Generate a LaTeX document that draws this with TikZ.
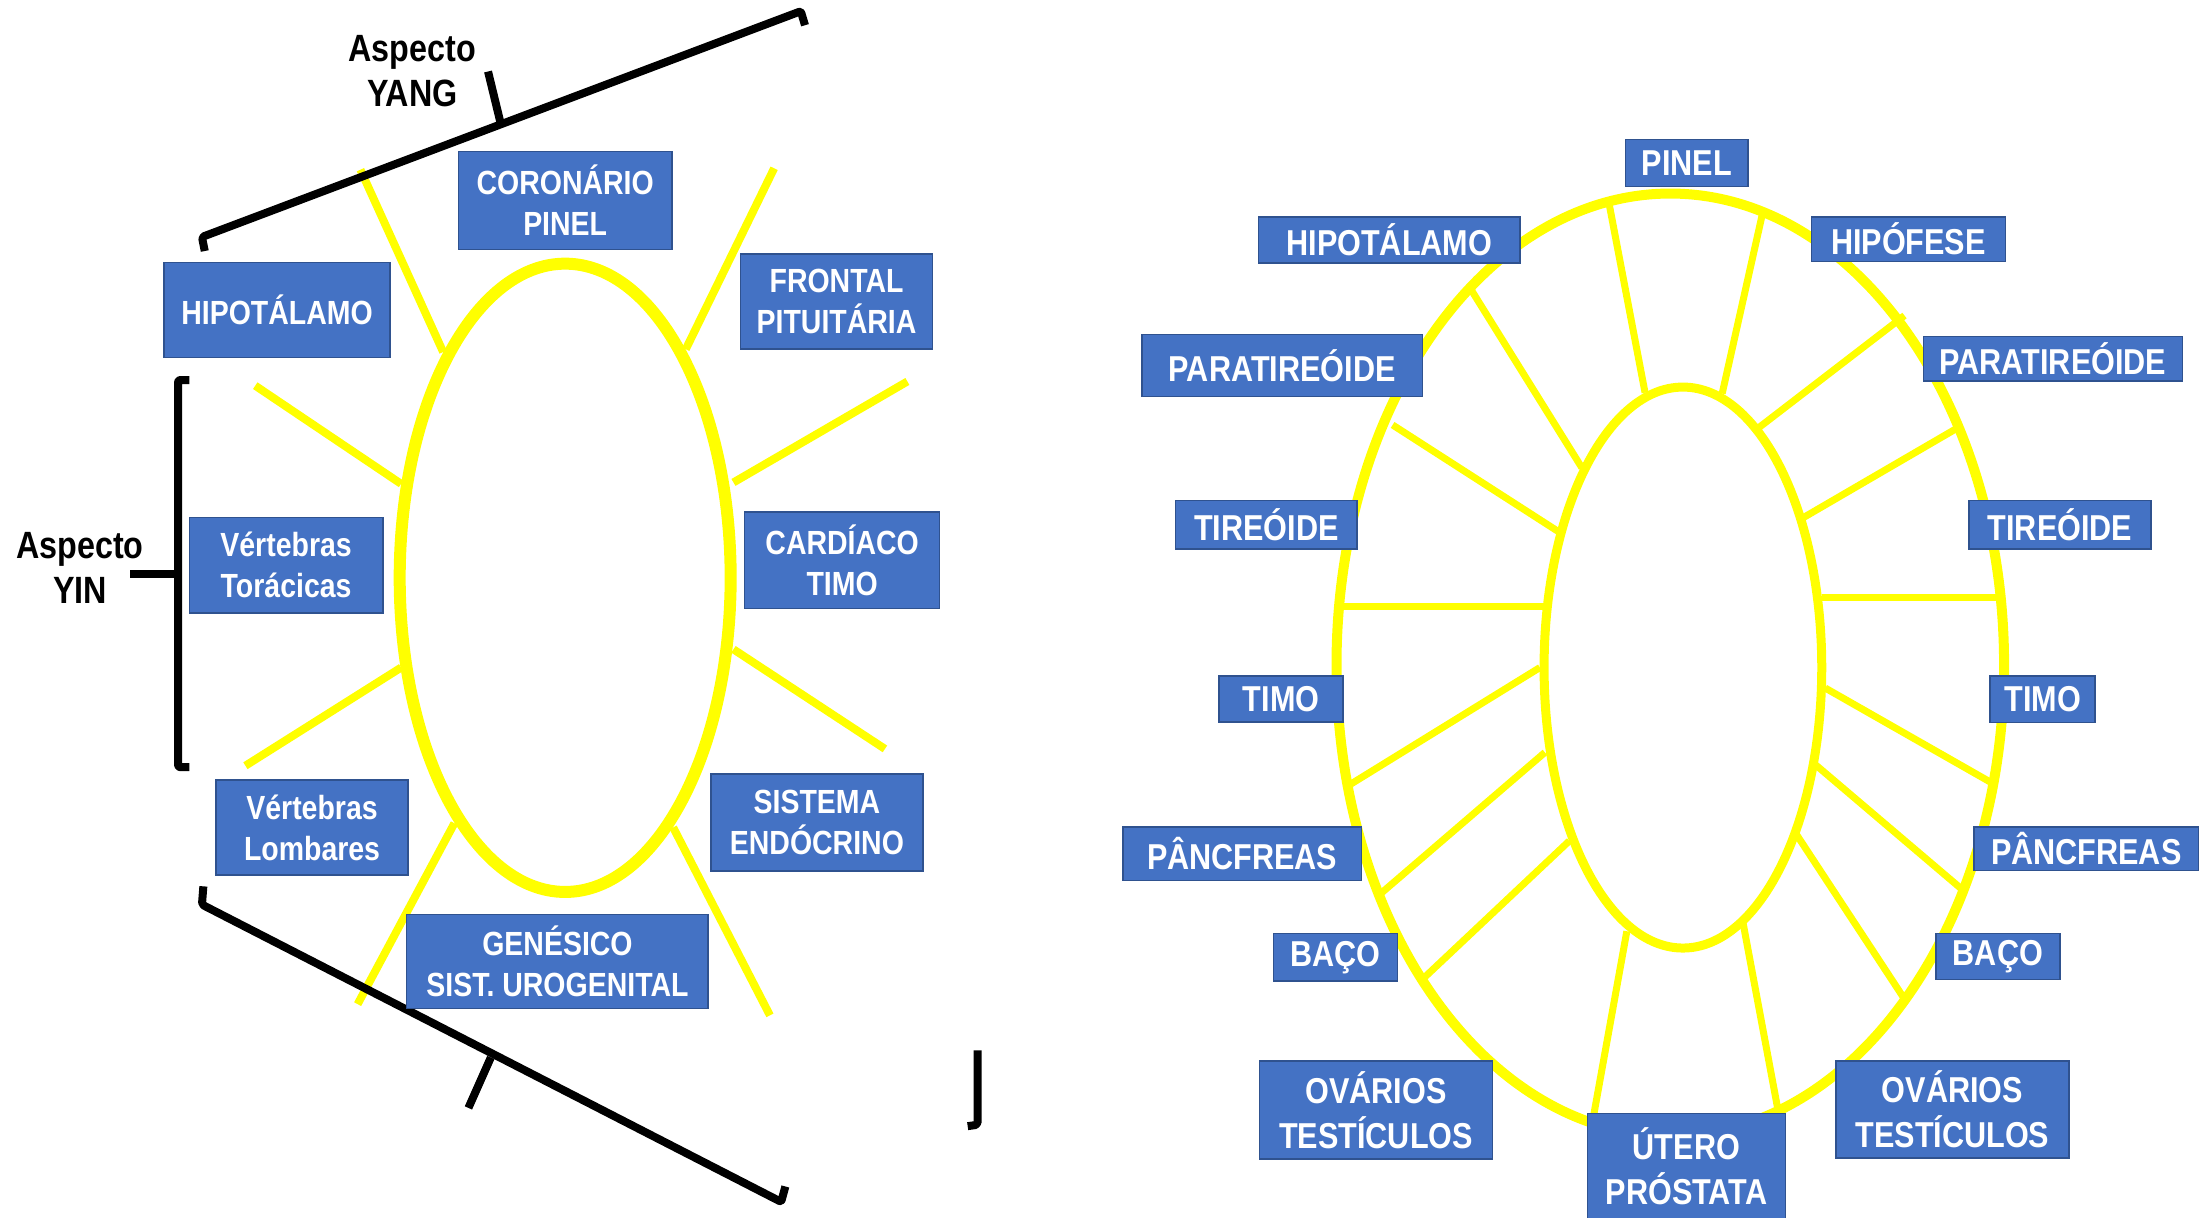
\documentclass[tikz,border=0pt]{standalone}
\usepackage{fontspec}
\setmainfont{Liberation Sans}[FakeStretch=0.85]
\definecolor{boxblue}{HTML}{4472C4}
\definecolor{boxedge}{HTML}{2F528F}
\definecolor{rayyel}{HTML}{FFFF00}
\newcommand{\bxnode}[7]{%
  \node[#1, minimum width={(#5-#3)*1.4025pt}, minimum height={(#6-#4)*1.4025pt}]
    (#2) at ({(#3+#5)/2},{(#4+#6)/2}) {#7};}
\begin{document}
\begin{tikzpicture}[x=1.4025pt, y=-1.4025pt,
  lbox/.style={draw=boxedge, line width=1.5pt, fill=boxblue, text=white,
    font=\fontsize{33.5}{41}\selectfont\bfseries, align=center, inner sep=0pt},
  rbox/.style={lbox, font=\fontsize{36}{45}\selectfont\bfseries},
  yel/.style={draw=rayyel, line width=8pt},
  blk/.style={draw=black, line width=8pt, line join=round, rounded corners=2pt},
  lbl/.style={font=\fontsize{38}{45}\selectfont\bfseries, align=center, text=black}]
\useasboundingbox[fill=white] (0,0) rectangle (1568,868);

% ---------- left diagram ----------
\draw[rayyel, line width=12pt] (403,412) ellipse [x radius=118, y radius=224];
\draw[yel] (257,121) -- (316,251);
\draw[yel] (552,120) -- (489,249);
\draw[yel] (182,275) -- (286,345);
\draw[yel] (647,272) -- (523,344);
\draw[yel] (175,546) -- (286,476);
\draw[yel] (631,534) -- (523,463);
\draw[yel] (255,716) -- (324,587);
\draw[yel] (549,724) -- (480,590);

% brackets
\draw[blk] (146,179) -- (144,169) -- (571,8) -- (574,18);
\draw[blk] (357,88) -- (348,51);
\draw[blk] (135,271) -- (127,271) -- (127,547) -- (135,547);
\draw[blk] (127,409) -- (93,409);
\draw[blk] (145,632) -- (144,645) -- (557,857) -- (560,846);
\draw[blk] (350,754) -- (334,790);
\draw[blk] (697,749) -- (697,802) -- (690,803);

\node[lbl] (yang) at (294,51) {Aspecto\\YANG};
\node[lbl] (yin) at (57,405) {Aspecto\\YIN};

\bxnode{lbox}{coron}{327}{108}{479}{178}{CORONÁRIO\\PINEL}
\bxnode{lbox}{hipoL}{117}{187}{278}{255}{HIPOTÁLAMO}
\bxnode{lbox}{front}{528}{181}{665}{249}{FRONTAL\\PITUITÁRIA}
\bxnode{lbox}{vtor}{135}{369}{273}{437}{Vértebras\\Torácicas}
\bxnode{lbox}{card}{531}{365}{670}{434}{CARDÍACO\\TIMO}
\bxnode{lbox}{vlom}{154}{556}{291}{624}{Vértebras\\Lombares}
\bxnode{lbox}{siste}{507}{552}{658}{621}{SISTEMA\\ENDÓCRINO}
\bxnode{lbox}{genes}{290}{652}{505}{719}{GENÉSICO\\SIST. UROGENITAL}

% ---------- right diagram ----------
\draw[rayyel, line width=10pt] (1191,474) ellipse [x radius=238, y radius=336];
\draw[rayyel, line width=9pt] (1200,476) ellipse [x radius=99, y radius=200];
\begin{scope}[yel, line width=7pt]
\draw (1147.6,146.5) -- (1173,280);
\draw (1256.5,153.3) -- (1228,280.6);
\draw (1048,205) -- (1128,333.6);
\draw (1358,225) -- (1254,305);
\draw (993,303) -- (1111.6,379.3);
\draw (1395,305.6) -- (1286,369);
\draw (956.7,432.4) -- (1102,432.4);
\draw (1299,425.7) -- (1424,425.7);
\draw (1098,476) -- (961.7,560);
\draw (1301.5,490.6) -- (1421.4,558.9);
\draw (1101.6,536.5) -- (984,637.6);
\draw (1295,545.7) -- (1400,635);
\draw (1119,599.6) -- (1015,697.6);
\draw (1280.5,594.3) -- (1359,713.9);
\draw (1160,664) -- (1136.6,794);
\draw (1243,658.7) -- (1268,792.7);
\end{scope}

\bxnode{rbox}{pinel}{1159}{99.3}{1246.5}{133}{PINEL}
\bxnode{rbox}{hipoR}{897.3}{154.6}{1084}{187.7}{HIPOTÁLAMO}
\bxnode{rbox}{hipof}{1291.5}{154.6}{1430}{186.4}{HIPÓFESE}
\bxnode{rbox}{paraL}{814.3}{238.6}{1014.2}{282.6}{PARATIREÓIDE}
\bxnode{rbox}{paraR}{1371.4}{239.9}{1556.3}{271.7}{PARATIREÓIDE}
\bxnode{rbox}{tireL}{838.3}{357}{967.7}{391.4}{TIREÓIDE}
\bxnode{rbox}{tireR}{1404}{357}{1533.7}{391.4}{TIREÓIDE}
\bxnode{rbox}{timoL}{869.2}{481.9}{957.7}{514.7}{TIMO}
\bxnode{rbox}{timoR}{1419}{482}{1494}{515}{TIMO}
\bxnode{rbox}{pancL}{800.8}{589.6}{970.7}{627.7}{PÂNCFREAS}
\bxnode{rbox}{pancR}{1407.4}{589.6}{1567.8}{620.6}{PÂNCFREAS}
\bxnode{rbox}{bacoL}{908.2}{665.8}{996.6}{699.4}{BAÇO}
\bxnode{rbox}{bacoR}{1380.4}{665.8}{1468.8}{698.6}{BAÇO}
\bxnode{rbox}{ovaL}{898.2}{756.7}{1064.1}{826.4}{OVÁRIOS\\TESTÍCULOS}
\bxnode{rbox}{ovaR}{1309}{756.7}{1475.4}{825.6}{OVÁRIOS\\TESTÍCULOS}
\bxnode{rbox}{utero}{1132}{794}{1273}{869}{ÚTERO\\PRÓSTATA}
\end{tikzpicture}
\end{document}
